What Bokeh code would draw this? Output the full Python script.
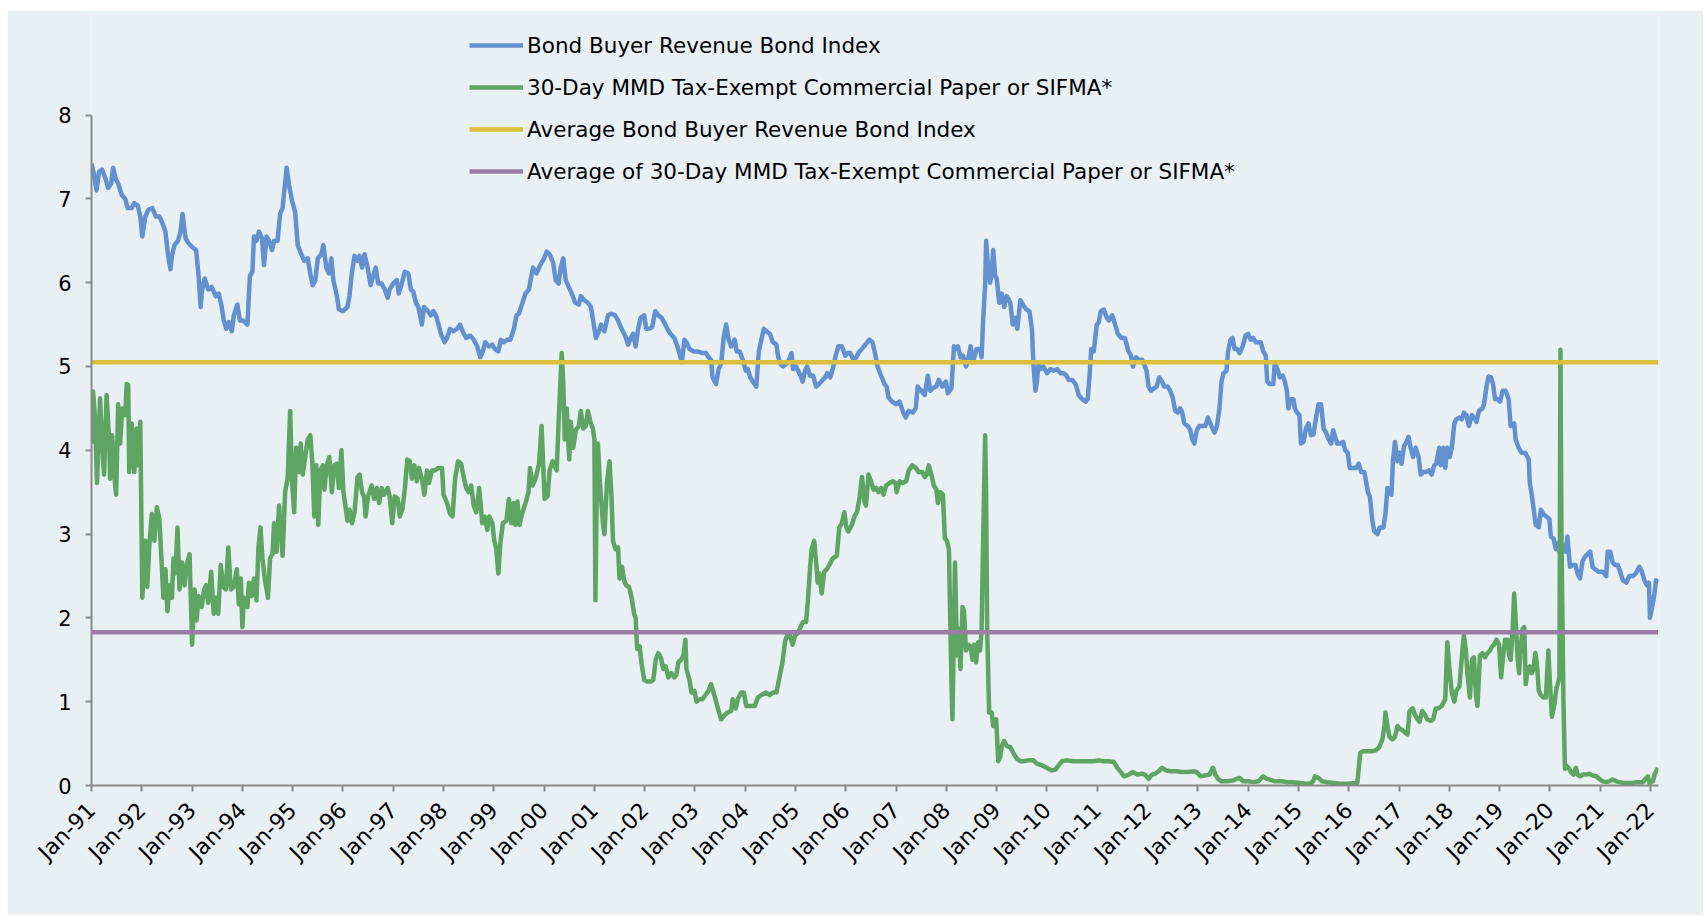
import math
from bokeh.plotting import figure
from bokeh.models import Range1d, FixedTicker, Legend, LegendItem
from bokeh.embed import file_html
from bokeh.resources import INLINE

# ---------------- data ----------------
series_names = [
    "Bond Buyer Revenue Bond Index",
    "30-Day MMD Tax-Exempt Commercial Paper or SIFMA*",
    "Average Bond Buyer Revenue Bond Index",
    "Average of 30-Day MMD Tax-Exempt Commercial Paper or SIFMA*",
]

year_ticks = [1991, 1992, 1993, 1994, 1995, 1996, 1997, 1998, 1999, 2000, 2001,
              2002, 2003, 2004, 2005, 2006, 2007, 2008, 2009, 2010, 2011, 2012,
              2013, 2014, 2015, 2016, 2017, 2018, 2019, 2020, 2021, 2022]
year_labels = ["Jan-91", "Jan-92", "Jan-93", "Jan-94", "Jan-95", "Jan-96", "Jan-97",
               "Jan-98", "Jan-99", "Jan-00", "Jan-01", "Jan-02", "Jan-03", "Jan-04",
               "Jan-05", "Jan-06", "Jan-07", "Jan-08", "Jan-09", "Jan-10", "Jan-11",
               "Jan-12", "Jan-13", "Jan-14", "Jan-15", "Jan-16", "Jan-17", "Jan-18",
               "Jan-19", "Jan-20", "Jan-21", "Jan-22"]
value_ticks = [0, 1, 2, 3, 4, 5, 6, 7, 8]

bbri_dates = [
    1991.00, 1991.05, 1991.10, 1991.15, 1991.21, 1991.28, 1991.33, 1991.39, 1991.43, 1991.48,
    1991.53, 1991.60, 1991.67, 1991.72, 1991.80, 1991.85, 1991.92, 1991.97,
    1992.01, 1992.07, 1992.13, 1992.21, 1992.28, 1992.35, 1992.41, 1992.47, 1992.52, 1992.57,
    1992.60, 1992.65, 1992.72, 1992.77, 1992.81, 1992.87, 1992.93,
    1993.01, 1993.08, 1993.13, 1993.17, 1993.20, 1993.25, 1993.32, 1993.39, 1993.47, 1993.53,
    1993.59, 1993.63, 1993.68, 1993.73, 1993.79, 1993.83, 1993.90, 1993.95,
    1994.01, 1994.10, 1994.15, 1994.20, 1994.23, 1994.28, 1994.33, 1994.39, 1994.43, 1994.48,
    1994.53, 1994.59, 1994.63, 1994.70, 1994.75, 1994.80, 1994.88, 1994.93, 1994.99,
    1995.05, 1995.10, 1995.17, 1995.23, 1995.30, 1995.35, 1995.40, 1995.45, 1995.50, 1995.57,
    1995.61, 1995.67, 1995.72, 1995.77, 1995.81, 1995.88, 1995.92,
    1996.00, 1996.09, 1996.13, 1996.18, 1996.23, 1996.29, 1996.33, 1996.38, 1996.43, 1996.49,
    1996.55, 1996.60, 1996.65, 1996.70, 1996.77, 1996.83, 1996.89, 1996.93,
    1997.00, 1997.07, 1997.11, 1997.17, 1997.23, 1997.30, 1997.35, 1997.40, 1997.45, 1997.50,
    1997.57, 1997.61, 1997.69, 1997.75, 1997.80, 1997.85, 1997.90, 1997.95,
    1998.02, 1998.07, 1998.13, 1998.20, 1998.27, 1998.33, 1998.38, 1998.45, 1998.53, 1998.60,
    1998.67, 1998.73, 1998.78, 1998.83, 1998.90, 1998.97,
    1999.02, 1999.09, 1999.14, 1999.20, 1999.27, 1999.33, 1999.40, 1999.45, 1999.50, 1999.57,
    1999.63, 1999.70, 1999.73, 1999.78, 1999.85, 1999.90, 1999.95,
    2000.00, 2000.05, 2000.11, 2000.18, 2000.23, 2000.29, 2000.33, 2000.38, 2000.43, 2000.49,
    2000.55, 2000.62, 2000.69, 2000.73, 2000.80, 2000.87, 2000.93, 2000.98,
    2001.03, 2001.09, 2001.13, 2001.20, 2001.27, 2001.34, 2001.41, 2001.47, 2001.54, 2001.61,
    2001.67, 2001.72, 2001.77, 2001.82, 2001.87, 2001.92, 2001.99,
    2002.03, 2002.09, 2002.15, 2002.21, 2002.27, 2002.34, 2002.41, 2002.45, 2002.51, 2002.59,
    2002.64, 2002.69, 2002.74, 2002.79, 2002.83, 2002.89, 2002.97,
    2003.05, 2003.15, 2003.22, 2003.27, 2003.32, 2003.35, 2003.42, 2003.47, 2003.52, 2003.57,
    2003.62, 2003.67, 2003.72, 2003.79, 2003.83, 2003.89, 2003.95,
    2004.01, 2004.05, 2004.10, 2004.15, 2004.22, 2004.27, 2004.32, 2004.37, 2004.42, 2004.49,
    2004.55, 2004.62, 2004.65, 2004.70, 2004.75, 2004.82, 2004.87, 2004.92, 2004.95,
    2005.01, 2005.05, 2005.10, 2005.14, 2005.19, 2005.23, 2005.29, 2005.35, 2005.41, 2005.47,
    2005.54, 2005.59, 2005.63, 2005.69, 2005.74, 2005.79, 2005.85, 2005.92, 2005.99,
    2006.04, 2006.09, 2006.15, 2006.21, 2006.25, 2006.32, 2006.39, 2006.47, 2006.53, 2006.59,
    2006.63, 2006.70, 2006.77, 2006.81, 2006.85, 2006.92,
    2007.00, 2007.07, 2007.13, 2007.19, 2007.25, 2007.33, 2007.39, 2007.43, 2007.50, 2007.57,
    2007.63, 2007.68, 2007.73, 2007.80, 2007.85, 2007.92, 2007.99,
    2008.03, 2008.10, 2008.15, 2008.19, 2008.23, 2008.28, 2008.33, 2008.39, 2008.43, 2008.48,
    2008.53, 2008.60, 2008.67, 2008.70, 2008.73, 2008.77, 2008.79, 2008.82, 2008.87, 2008.90,
    2008.93, 2008.97,
    2009.00, 2009.05, 2009.10, 2009.15, 2009.20, 2009.27, 2009.32, 2009.37, 2009.41, 2009.47,
    2009.52, 2009.59, 2009.65, 2009.70, 2009.73, 2009.77, 2009.80, 2009.83, 2009.88, 2009.93,
    2010.00, 2010.07, 2010.13, 2010.20, 2010.27, 2010.33, 2010.39, 2010.43, 2010.50, 2010.57,
    2010.63, 2010.70, 2010.77, 2010.81, 2010.85, 2010.88, 2010.93, 2010.99,
    2011.03, 2011.07, 2011.13, 2011.19, 2011.23, 2011.30, 2011.37, 2011.41, 2011.48, 2011.55,
    2011.62, 2011.67, 2011.71, 2011.77, 2011.82, 2011.89, 2011.93, 2011.98,
    2012.02, 2012.07, 2012.13, 2012.18, 2012.23, 2012.29, 2012.33, 2012.40, 2012.45, 2012.50,
    2012.55, 2012.60, 2012.65, 2012.69, 2012.73, 2012.80, 2012.85, 2012.89, 2012.93, 2012.98,
    2013.03, 2013.10, 2013.15, 2013.20, 2013.27, 2013.33, 2013.38, 2013.43, 2013.47, 2013.51,
    2013.57, 2013.60, 2013.65, 2013.69, 2013.73, 2013.78, 2013.83, 2013.89, 2013.95,
    2014.00, 2014.05, 2014.10, 2014.15, 2014.20, 2014.25, 2014.30, 2014.35, 2014.38, 2014.43,
    2014.50, 2014.53, 2014.58, 2014.63, 2014.69, 2014.73, 2014.77, 2014.80, 2014.85, 2014.90,
    2014.93, 2014.97,
    2015.02, 2015.05, 2015.10, 2015.15, 2015.20, 2015.25, 2015.30, 2015.35, 2015.40, 2015.45,
    2015.50, 2015.55, 2015.60, 2015.65, 2015.69, 2015.73, 2015.77, 2015.83, 2015.89, 2015.93,
    2015.98,
    2016.02, 2016.09, 2016.15, 2016.20, 2016.25, 2016.31, 2016.35, 2016.38, 2016.42, 2016.47,
    2016.51, 2016.57, 2016.62, 2016.69, 2016.73, 2016.77, 2016.81, 2016.85, 2016.88, 2016.92,
    2016.97,
    2017.01, 2017.05, 2017.10, 2017.15, 2017.19, 2017.23, 2017.28, 2017.33, 2017.39, 2017.43,
    2017.48, 2017.53, 2017.60, 2017.65, 2017.70, 2017.74, 2017.80, 2017.83, 2017.88, 2017.92,
    2017.96,
    2018.01, 2018.05, 2018.10, 2018.14, 2018.20, 2018.25, 2018.29, 2018.34, 2018.39, 2018.45,
    2018.49, 2018.54, 2018.59, 2018.66, 2018.69, 2018.74, 2018.78, 2018.83, 2018.87, 2018.91,
    2018.96,
    2019.01, 2019.06, 2019.12, 2019.18, 2019.22, 2019.29, 2019.32, 2019.38, 2019.44, 2019.51,
    2019.58, 2019.60, 2019.64, 2019.69, 2019.72, 2019.78, 2019.82, 2019.87, 2019.93, 2019.99,
    2020.02, 2020.07, 2020.12, 2020.15, 2020.19, 2020.22, 2020.25, 2020.31, 2020.35, 2020.40,
    2020.45, 2020.51, 2020.55, 2020.60, 2020.65, 2020.71, 2020.75, 2020.80, 2020.85, 2020.90,
    2020.97,
    2021.05, 2021.12, 2021.15, 2021.20, 2021.25, 2021.30, 2021.35, 2021.40, 2021.45, 2021.52,
    2021.58, 2021.65, 2021.71, 2021.78, 2021.83, 2021.88, 2021.93, 2021.97, 2021.99,
    2022.05, 2022.08, 2022.11, 2022.15,
]
bbri_values = [
    7.42, 7.29, 7.10, 7.32, 7.35, 7.24, 7.13, 7.18, 7.37, 7.24,
    7.18, 7.05, 7.00, 6.89, 6.89, 6.95, 6.92, 6.79,
    6.55, 6.79, 6.87, 6.89, 6.79, 6.79, 6.71, 6.61, 6.34, 6.16,
    6.32, 6.45, 6.50, 6.61, 6.82, 6.53, 6.47,
    6.42, 6.39, 6.08, 5.71, 5.92, 6.05, 5.92, 5.95, 5.84, 5.87,
    5.71, 5.55, 5.45, 5.53, 5.42, 5.61, 5.74, 5.55,
    5.55, 5.50, 6.08, 6.13, 6.55, 6.50, 6.61, 6.53, 6.21, 6.55,
    6.50, 6.39, 6.50, 6.50, 6.82, 6.89, 7.37, 7.16, 6.97,
    6.84, 6.45, 6.34, 6.26, 6.29, 6.11, 5.97, 6.03, 6.29, 6.34,
    6.45, 6.18, 6.11, 6.29, 6.03, 5.84, 5.68,
    5.66, 5.71, 5.84, 6.13, 6.32, 6.26, 6.32, 6.18, 6.34, 6.18,
    5.97, 6.08, 6.18, 5.99, 5.99, 5.92, 5.82, 5.92,
    5.99, 6.03, 5.87, 5.99, 6.13, 6.11, 5.92, 5.89, 5.76, 5.71,
    5.50, 5.71, 5.66, 5.61, 5.66, 5.61, 5.50, 5.39,
    5.29, 5.34, 5.45, 5.42, 5.45, 5.50, 5.42, 5.34, 5.37, 5.32,
    5.24, 5.11, 5.18, 5.29, 5.24, 5.26,
    5.21, 5.18, 5.32, 5.29, 5.32, 5.32, 5.45, 5.61, 5.63, 5.76,
    5.87, 5.92, 6.03, 6.18, 6.11, 6.18, 6.24,
    6.29, 6.37, 6.34, 6.24, 6.03, 5.99, 6.18, 6.29, 6.03, 5.95,
    5.87, 5.76, 5.74, 5.84, 5.79, 5.76, 5.71, 5.53,
    5.34, 5.42, 5.50, 5.42, 5.61, 5.63, 5.61, 5.55, 5.45, 5.37,
    5.26, 5.34, 5.39, 5.24, 5.45, 5.58, 5.61,
    5.45, 5.45, 5.47, 5.66, 5.61, 5.58, 5.50, 5.45, 5.39, 5.34,
    5.26, 5.16, 5.05, 5.32, 5.29, 5.21, 5.18,
    5.18, 5.16, 5.16, 5.11, 5.08, 4.87, 4.79, 4.97, 5.03, 5.34,
    5.50, 5.32, 5.24, 5.32, 5.18, 5.18, 5.08,
    4.95, 4.97, 4.87, 4.82, 4.76, 5.18, 5.32, 5.45, 5.42, 5.39,
    5.29, 5.26, 5.13, 5.03, 5.00, 5.03, 5.08, 5.16, 4.97,
    5.00, 4.95, 4.89, 4.82, 4.95, 5.00, 4.89, 4.89, 4.76, 4.79,
    4.84, 4.87, 4.92, 4.87, 4.97, 5.11, 5.24, 5.24, 5.13,
    5.16, 5.16, 5.08, 5.11, 5.16, 5.21, 5.26, 5.32, 5.29, 5.13,
    5.00, 4.89, 4.79, 4.76, 4.63, 4.58,
    4.55, 4.58, 4.47, 4.39, 4.47, 4.45, 4.50, 4.76, 4.71, 4.66,
    4.89, 4.71, 4.74, 4.76, 4.84, 4.76, 4.82,
    4.68, 4.74, 5.24, 5.21, 5.24, 5.11, 5.13, 5.00, 5.08, 5.24,
    5.05, 5.21, 5.21, 5.11, 5.55, 5.97, 6.50, 6.24, 6.00, 6.13,
    6.39, 6.08,
    6.05, 5.76, 5.87, 5.71, 5.84, 5.76, 5.50, 5.58, 5.45, 5.79,
    5.74, 5.68, 5.66, 5.45, 5.03, 4.71, 4.82, 5.03, 4.97, 5.00,
    4.92, 4.97, 4.95, 4.97, 4.92, 4.92, 4.89, 4.84, 4.84, 4.79,
    4.66, 4.61, 4.58, 4.61, 4.92, 5.21, 5.18, 5.50,
    5.53, 5.66, 5.68, 5.58, 5.55, 5.61, 5.47, 5.39, 5.34, 5.34,
    5.18, 5.13, 5.00, 5.11, 5.08, 5.08, 5.03, 4.95,
    4.76, 4.71, 4.74, 4.76, 4.87, 4.82, 4.76, 4.76, 4.71, 4.63,
    4.47, 4.45, 4.50, 4.45, 4.32, 4.29, 4.24, 4.13, 4.08, 4.24,
    4.29, 4.29, 4.29, 4.39, 4.29, 4.21, 4.29, 4.50, 4.82, 4.92,
    4.95, 5.18, 5.32, 5.34, 5.21, 5.21, 5.16, 5.24, 5.37,
    5.39, 5.32, 5.34, 5.29, 5.29, 5.29, 5.18, 5.13, 4.82, 4.79,
    4.79, 5.05, 4.97, 4.87, 4.89, 4.82, 4.71, 4.50, 4.61, 4.61,
    4.50, 4.45,
    4.42, 4.08, 4.10, 4.26, 4.32, 4.18, 4.19, 4.39, 4.55, 4.55,
    4.26, 4.21, 4.13, 4.08, 4.24, 4.16, 4.08, 4.08, 4.10, 4.00,
    3.97,
    3.79, 3.79, 3.79, 3.84, 3.74, 3.74, 3.61, 3.50, 3.45, 3.16,
    3.03, 3.00, 3.08, 3.08, 3.24, 3.55, 3.50, 3.47, 3.87, 4.10,
    3.87,
    3.97, 3.84, 4.05, 4.10, 4.16, 4.03, 3.92, 4.03, 3.92, 3.71,
    3.74, 3.74, 3.76, 3.71, 3.82, 3.84, 4.03, 3.82, 4.03, 3.79,
    4.03,
    3.92, 4.03, 4.32, 4.37, 4.39, 4.37, 4.45, 4.42, 4.29, 4.42,
    4.39, 4.34, 4.47, 4.50, 4.55, 4.76, 4.88, 4.87, 4.79, 4.61,
    4.61,
    4.58, 4.71, 4.71, 4.61, 4.29, 4.32, 4.13, 4.03, 3.97, 3.97,
    3.89, 3.61, 3.47, 3.24, 3.11, 3.08, 3.29, 3.24, 3.21, 3.18,
    2.97, 2.95, 2.82, 2.89, 2.79, 2.79, 2.87, 2.79, 2.97, 2.61,
    2.63, 2.63, 2.53, 2.47, 2.68, 2.74, 2.76, 2.79, 2.61, 2.58,
    2.55,
    2.55, 2.50, 2.79, 2.79, 2.66, 2.63, 2.63, 2.55, 2.45, 2.42,
    2.50, 2.50, 2.53, 2.61, 2.55, 2.45, 2.39, 2.42, 2.00,
    2.18, 2.29, 2.45, 2.42,
]

sifma_dates = [
    1991.00, 1991.03, 1991.07, 1991.11, 1991.17, 1991.21, 1991.25, 1991.30, 1991.35, 1991.37,
    1991.41, 1991.45, 1991.49, 1991.53, 1991.57, 1991.61, 1991.67, 1991.70, 1991.73, 1991.75,
    1991.80, 1991.85, 1991.90, 1991.93, 1991.97,
    1992.01, 1992.07, 1992.11, 1992.15, 1992.20, 1992.25, 1992.30, 1992.35, 1992.39, 1992.43,
    1992.47, 1992.51, 1992.55, 1992.60, 1992.63, 1992.67, 1992.71, 1992.75, 1992.80, 1992.85,
    1992.89, 1992.95,
    1993.00, 1993.05, 1993.09, 1993.13, 1993.19, 1993.24, 1993.28, 1993.32, 1993.38, 1993.43,
    1993.47, 1993.52, 1993.57, 1993.62, 1993.67, 1993.72, 1993.77, 1993.83, 1993.89, 1993.93,
    1993.97,
    1994.00, 1994.03, 1994.10, 1994.13, 1994.18, 1994.23, 1994.28, 1994.32, 1994.36, 1994.40,
    1994.45, 1994.51, 1994.55, 1994.60, 1994.63, 1994.68, 1994.73, 1994.77, 1994.80, 1994.85,
    1994.90, 1994.95, 1994.99,
    1995.03, 1995.07, 1995.12, 1995.16, 1995.20, 1995.25, 1995.30, 1995.35, 1995.39, 1995.43,
    1995.47, 1995.51, 1995.55, 1995.60, 1995.63, 1995.68, 1995.73, 1995.78, 1995.83, 1995.88,
    1995.92, 1995.97,
    1996.01, 1996.09, 1996.13, 1996.18, 1996.23, 1996.29, 1996.33, 1996.38, 1996.42, 1996.45,
    1996.50, 1996.57, 1996.62, 1996.67, 1996.72, 1996.77, 1996.82, 1996.89, 1996.93, 1996.98,
    1997.03, 1997.09, 1997.13, 1997.18, 1997.23, 1997.28, 1997.33, 1997.37, 1997.42, 1997.47,
    1997.51, 1997.57, 1997.62, 1997.67, 1997.71, 1997.77, 1997.83, 1997.90, 1997.97,
    1998.00, 1998.07, 1998.13, 1998.18, 1998.23, 1998.29, 1998.35, 1998.40, 1998.45, 1998.50,
    1998.55, 1998.60, 1998.65, 1998.71, 1998.77, 1998.82, 1998.87, 1998.91, 1998.97,
    1999.01, 1999.05, 1999.09, 1999.13, 1999.18, 1999.25, 1999.30, 1999.35, 1999.39, 1999.43,
    1999.47, 1999.51, 1999.57, 1999.63, 1999.69, 1999.72, 1999.77, 1999.83, 1999.90, 1999.95,
    2000.01, 2000.07, 2000.11, 2000.17, 2000.25, 2000.30, 2000.35, 2000.38, 2000.41, 2000.45,
    2000.50, 2000.53, 2000.58, 2000.63, 2000.69, 2000.73, 2000.78, 2000.83, 2000.87, 2000.93,
    2000.97,
    2001.00, 2001.02, 2001.05, 2001.07, 2001.11, 2001.17, 2001.20, 2001.25, 2001.30, 2001.34,
    2001.37, 2001.42, 2001.47, 2001.50, 2001.55, 2001.59, 2001.63, 2001.69, 2001.74, 2001.79,
    2001.82, 2001.85, 2001.90, 2001.94, 2001.99,
    2002.05, 2002.12, 2002.17, 2002.22, 2002.27, 2002.32, 2002.37, 2002.42, 2002.47, 2002.53,
    2002.59, 2002.63, 2002.67, 2002.72, 2002.77, 2002.81, 2002.83, 2002.89, 2002.93, 2002.99,
    2003.03, 2003.09, 2003.15, 2003.21, 2003.27, 2003.32, 2003.37, 2003.42, 2003.47, 2003.52,
    2003.59, 2003.65, 2003.72, 2003.75, 2003.81, 2003.85, 2003.92, 2003.97,
    2004.02, 2004.10, 2004.19, 2004.25, 2004.32, 2004.41, 2004.49, 2004.55, 2004.62, 2004.67,
    2004.74, 2004.79, 2004.83, 2004.89, 2004.94, 2004.99,
    2005.05, 2005.10, 2005.15, 2005.21, 2005.25, 2005.29, 2005.32, 2005.37, 2005.41, 2005.44,
    2005.47, 2005.52, 2005.57, 2005.62, 2005.67, 2005.74, 2005.82, 2005.87, 2005.92, 2005.97,
    2006.01, 2006.05, 2006.12, 2006.17, 2006.22, 2006.27, 2006.32, 2006.37, 2006.40, 2006.45,
    2006.50, 2006.55, 2006.60, 2006.65, 2006.70, 2006.75, 2006.80, 2006.87, 2006.93, 2006.99,
    2007.01, 2007.07, 2007.13, 2007.20, 2007.25, 2007.32, 2007.39, 2007.45, 2007.52, 2007.57,
    2007.61, 2007.65, 2007.70, 2007.75, 2007.80, 2007.83, 2007.88, 2007.93, 2007.97,
    2008.01, 2008.05, 2008.08, 2008.10, 2008.12, 2008.15, 2008.17, 2008.19, 2008.21, 2008.25,
    2008.28, 2008.32, 2008.35, 2008.39, 2008.43, 2008.48, 2008.52, 2008.55, 2008.59, 2008.63,
    2008.67, 2008.70, 2008.73, 2008.77, 2008.79, 2008.81, 2008.85, 2008.90, 2008.93, 2008.99,
    2009.03, 2009.07, 2009.10, 2009.15, 2009.20, 2009.27, 2009.33, 2009.40, 2009.47, 2009.53,
    2009.63, 2009.73, 2009.80, 2009.90,
    2010.00, 2010.10, 2010.17, 2010.23, 2010.30, 2010.40, 2010.53, 2010.67, 2010.80, 2010.93,
    2011.03, 2011.13, 2011.23, 2011.33, 2011.40, 2011.47, 2011.53, 2011.63, 2011.70, 2011.80,
    2011.89, 2011.95,
    2012.02, 2012.09, 2012.15, 2012.22, 2012.29, 2012.37, 2012.47, 2012.57, 2012.67, 2012.80,
    2012.93, 2012.98,
    2013.05, 2013.13, 2013.23, 2013.30, 2013.35, 2013.40, 2013.47, 2013.57, 2013.70, 2013.77,
    2013.83, 2013.90,
    2014.00, 2014.10, 2014.20, 2014.30, 2014.37, 2014.43, 2014.53, 2014.67, 2014.77, 2014.90,
    2015.03, 2015.13, 2015.23, 2015.29, 2015.33, 2015.40, 2015.47, 2015.57, 2015.70, 2015.83,
    2015.97,
    2016.17, 2016.23, 2016.29, 2016.37, 2016.47, 2016.53, 2016.60, 2016.67, 2016.71, 2016.73,
    2016.77, 2016.81, 2016.87, 2016.92, 2016.97,
    2017.01, 2017.07, 2017.12, 2017.17, 2017.21, 2017.27, 2017.32, 2017.37, 2017.41, 2017.46,
    2017.52, 2017.56, 2017.63, 2017.68, 2017.73, 2017.78, 2017.85, 2017.92, 2017.96,
    2018.01, 2018.05, 2018.10, 2018.14, 2018.20, 2018.23, 2018.26, 2018.29, 2018.33, 2018.36,
    2018.41, 2018.45, 2018.49, 2018.53, 2018.56, 2018.61, 2018.66, 2018.71, 2018.76, 2018.81,
    2018.85, 2018.89, 2018.94, 2018.99,
    2019.03, 2019.07, 2019.11, 2019.16, 2019.19, 2019.22, 2019.26, 2019.29, 2019.32, 2019.36,
    2019.39, 2019.42, 2019.46, 2019.49, 2019.52, 2019.56, 2019.60, 2019.64, 2019.67, 2019.71,
    2019.74, 2019.78, 2019.82, 2019.87, 2019.92, 2019.97,
    2020.00, 2020.04, 2020.09, 2020.13, 2020.17, 2020.19, 2020.21, 2020.23, 2020.27, 2020.30,
    2020.32, 2020.37, 2020.42, 2020.47, 2020.52, 2020.55, 2020.60, 2020.65, 2020.72, 2020.78,
    2020.85, 2020.92, 2020.98,
    2021.05, 2021.12, 2021.18, 2021.25, 2021.32, 2021.38, 2021.46, 2021.55, 2021.65, 2021.73,
    2021.85, 2021.90, 2021.95, 2021.98,
    2022.05, 2022.08, 2022.13, 2022.15,
]
sifma_values = [
    4.08, 4.70, 4.39, 3.61, 4.62, 4.08, 3.71, 4.66, 4.13, 3.66,
    4.18, 3.71, 3.47, 4.55, 4.08, 4.50, 4.42, 4.79, 4.78, 3.74,
    4.32, 3.74, 4.26, 3.82, 4.34,
    2.24, 2.92, 2.37, 2.87, 3.24, 2.92, 3.32, 3.18, 2.71, 2.24,
    2.58, 2.08, 2.39, 2.24, 2.71, 2.53, 3.08, 2.34, 2.66, 2.39,
    2.63, 2.76,
    1.68, 2.34, 1.97, 2.26, 2.13, 2.34, 2.39, 2.18, 2.55, 2.05,
    2.24, 2.05, 2.63, 2.37, 2.34, 2.84, 2.34, 2.37, 2.58, 2.16,
    2.47,
    1.89, 2.24, 2.13, 2.42, 2.26, 2.47, 2.21, 2.84, 3.08, 2.71,
    2.45, 2.24, 2.71, 2.76, 3.13, 2.79, 3.34, 3.00, 2.74, 3.50,
    3.66, 4.47, 3.61,
    3.26, 4.03, 3.74, 4.08, 3.71, 3.92, 4.13, 4.18, 3.87, 3.21,
    3.82, 3.11, 3.76, 3.82, 3.53, 3.82, 3.92, 3.50, 3.82, 3.84,
    3.55, 4.00,
    3.50, 3.16, 3.29, 3.13, 3.26, 3.68, 3.71, 3.50, 3.45, 3.21,
    3.45, 3.58, 3.42, 3.55, 3.37, 3.55, 3.47, 3.55, 3.45, 3.13,
    3.45, 3.42, 3.21, 3.29, 3.53, 3.89, 3.87, 3.66, 3.82, 3.63,
    3.79, 3.66, 3.47, 3.76, 3.61, 3.76, 3.76, 3.79, 3.79,
    3.47, 3.37, 3.24, 3.21, 3.66, 3.87, 3.84, 3.68, 3.55, 3.50,
    3.58, 3.34, 3.26, 3.55, 3.13, 3.21, 3.05, 3.21, 3.13,
    2.92, 2.82, 2.53, 2.89, 3.13, 3.16, 3.42, 3.13, 3.37, 3.11,
    3.39, 3.11, 3.26, 3.37, 3.50, 3.79, 3.58, 3.66, 3.84, 4.29,
    3.42, 3.45, 3.76, 3.87, 3.76, 4.50, 5.16, 4.82, 4.13, 4.50,
    3.89, 4.34, 4.03, 4.24, 4.29, 4.47, 4.26, 4.29, 4.47, 4.32,
    4.26,
    4.13, 2.21, 3.61, 4.08, 3.61, 3.13, 3.00, 3.61, 3.87, 3.45,
    2.92, 2.82, 2.84, 2.47, 2.61, 2.45, 2.39, 2.37, 2.24, 2.05,
    2.00, 1.63, 1.66, 1.45, 1.26,
    1.24, 1.24, 1.26, 1.50, 1.58, 1.53, 1.39, 1.42, 1.29, 1.34,
    1.29, 1.32, 1.47, 1.50, 1.55, 1.74, 1.39, 1.26, 1.11, 1.13,
    1.00, 1.03, 1.03, 1.08, 1.13, 1.21, 1.11, 1.00, 0.89, 0.79,
    0.84, 0.87, 0.89, 1.03, 0.92, 1.03, 1.11, 1.11,
    0.95, 0.95, 0.95, 1.05, 1.08, 1.11, 1.08, 1.11, 1.11, 1.26,
    1.47, 1.71, 1.79, 1.79, 1.68, 1.79,
    1.82, 1.89, 1.95, 1.95, 2.24, 2.61, 2.82, 2.92, 2.66, 2.42,
    2.53, 2.29, 2.55, 2.58, 2.63, 2.71, 2.74, 3.08, 3.13, 3.26,
    3.08, 3.03, 3.11, 3.21, 3.26, 3.42, 3.68, 3.39, 3.34, 3.71,
    3.63, 3.53, 3.55, 3.50, 3.55, 3.47, 3.58, 3.61, 3.63, 3.61,
    3.50, 3.63, 3.61, 3.63, 3.76, 3.82, 3.79, 3.74, 3.74, 3.68,
    3.71, 3.82, 3.71, 3.58, 3.53, 3.37, 3.50, 3.47, 2.95,
    2.92, 2.82, 1.87, 1.24, 0.79, 1.87, 2.66, 2.13, 1.55, 1.87,
    1.39, 2.13, 2.08, 1.61, 1.68, 1.66, 1.50, 1.68, 1.47, 1.71,
    1.61, 1.87, 2.92, 4.18, 3.45, 1.87, 0.87, 0.87, 0.71, 0.79,
    0.29, 0.34, 0.47, 0.53, 0.47, 0.46, 0.39, 0.32, 0.29, 0.29,
    0.30, 0.30, 0.26, 0.24,
    0.21, 0.18, 0.19, 0.24, 0.29, 0.30, 0.29, 0.29, 0.29, 0.29,
    0.30, 0.29, 0.29, 0.28, 0.21, 0.16, 0.11, 0.13, 0.16, 0.13,
    0.14, 0.13,
    0.08, 0.13, 0.14, 0.17, 0.21, 0.18, 0.17, 0.17, 0.16, 0.16,
    0.17, 0.16,
    0.11, 0.12, 0.13, 0.21, 0.13, 0.08, 0.05, 0.05, 0.06, 0.08,
    0.09, 0.05,
    0.05, 0.04, 0.05, 0.11, 0.08, 0.07, 0.05, 0.05, 0.04, 0.04,
    0.03, 0.02, 0.02, 0.05, 0.11, 0.09, 0.05, 0.04, 0.03, 0.02,
    0.02,
    0.03, 0.39, 0.41, 0.41, 0.41, 0.42, 0.45, 0.55, 0.71, 0.87,
    0.71, 0.58, 0.55, 0.58, 0.71,
    0.68, 0.66, 0.63, 0.61, 0.89, 0.92, 0.84, 0.79, 0.76, 0.89,
    0.84, 0.79, 0.77, 0.79, 0.92, 0.92, 0.95, 1.03, 1.71,
    1.34, 1.11, 1.00, 1.13, 1.18, 1.39, 1.61, 1.79, 1.61, 1.34,
    1.05, 1.50, 1.53, 1.08, 0.95, 1.55, 1.58, 1.53, 1.58, 1.61,
    1.66, 1.68, 1.74, 1.68,
    1.29, 1.55, 1.74, 1.74, 1.55, 1.50, 1.87, 2.29, 1.97, 1.50,
    1.34, 1.66, 1.87, 1.89, 1.21, 1.39, 1.42, 1.34, 1.39, 1.58,
    1.47, 1.13, 1.08, 1.05, 1.05, 1.61,
    1.24, 0.82, 0.97, 1.16, 1.24, 1.30, 5.20, 3.00, 1.00, 0.20,
    0.24, 0.21, 0.16, 0.13, 0.21, 0.13, 0.11, 0.13, 0.13, 0.14,
    0.12, 0.11, 0.08,
    0.05, 0.04, 0.05, 0.07, 0.05, 0.04, 0.03, 0.03, 0.03, 0.04,
    0.04, 0.08, 0.11, 0.03,
    0.05, 0.13, 0.19, 0.21,
]

avg_bbri = 5.05
avg_sifma = 1.83

# ---------------- styling ----------------
BG = "#E9F0F4"
BLUE = "#6390CF"
GREEN = "#5EA462"
YELLOW = "#DBBE3B"
PURPLE = "#9B7DA6"
AXIS = "#8A8A8A"
FONT = "DejaVu Sans"

# the frame reaches up to the legend; the value axis itself stops at 8
p = figure(width=1696, height=905,
           x_range=Range1d(1991.0, 2022.16), y_range=Range1d(0, 9.2),
           output_backend="svg", toolbar_location=None,
           min_border_left=84, min_border_right=45,
           min_border_top=4, min_border_bottom=130,
           background_fill_color=BG, border_fill_color=BG,
           outline_line_color=None,
           styles={"margin-left": "7px", "margin-top": "10px"})

p.xgrid.visible = False
p.ygrid.visible = False

p.xaxis.ticker = FixedTicker(ticks=year_ticks)
p.xaxis.major_label_overrides = {t: lab for t, lab in zip(year_ticks, year_labels)}
p.xaxis.major_label_orientation = math.pi / 4
p.yaxis.ticker = FixedTicker(ticks=value_ticks)
p.yaxis.bounds = (value_ticks[0], value_ticks[-1])

for ax in (p.xaxis[0], p.yaxis[0]):
    ax.axis_line_color = AXIS
    ax.axis_line_width = 2
    ax.major_tick_line_color = AXIS
    ax.major_tick_line_width = 2
    ax.major_tick_in = 0
    ax.major_tick_out = 6
    ax.minor_tick_line_color = None
    ax.major_label_text_font = FONT
    ax.major_label_text_color = "#000000"

p.xaxis.major_label_text_font_size = "22px"
p.xaxis.major_label_standoff = 15
p.yaxis.major_label_text_font_size = "21px"
p.yaxis.major_label_standoff = 14

r_blue = p.line(bbri_dates, bbri_values, line_color=BLUE, line_width=4.5, line_join="round")
r_green = p.line(sifma_dates, sifma_values, line_color=GREEN, line_width=4.5, line_join="round")
r_yel = p.line([bbri_dates[0], bbri_dates[-1]], [avg_bbri, avg_bbri], line_color=YELLOW, line_width=4.5)
r_pur = p.line([sifma_dates[0], sifma_dates[-1]], [avg_sifma, avg_sifma], line_color=PURPLE, line_width=4.5)

legend = Legend(items=[LegendItem(label=series_names[0], renderers=[r_blue]),
                       LegendItem(label=series_names[1], renderers=[r_green]),
                       LegendItem(label=series_names[2], renderers=[r_yel]),
                       LegendItem(label=series_names[3], renderers=[r_pur])],
                location=(378, 593), orientation="vertical",
                padding=0, margin=0, spacing=0,
                glyph_width=54, glyph_height=42, label_height=42, label_standoff=4,
                label_text_font=FONT, label_text_font_size="21.5px",
                label_text_color="#000000",
                background_fill_alpha=0, border_line_alpha=0)
p.add_layout(legend)

open("out.html", "w").write(file_html(p, INLINE))
